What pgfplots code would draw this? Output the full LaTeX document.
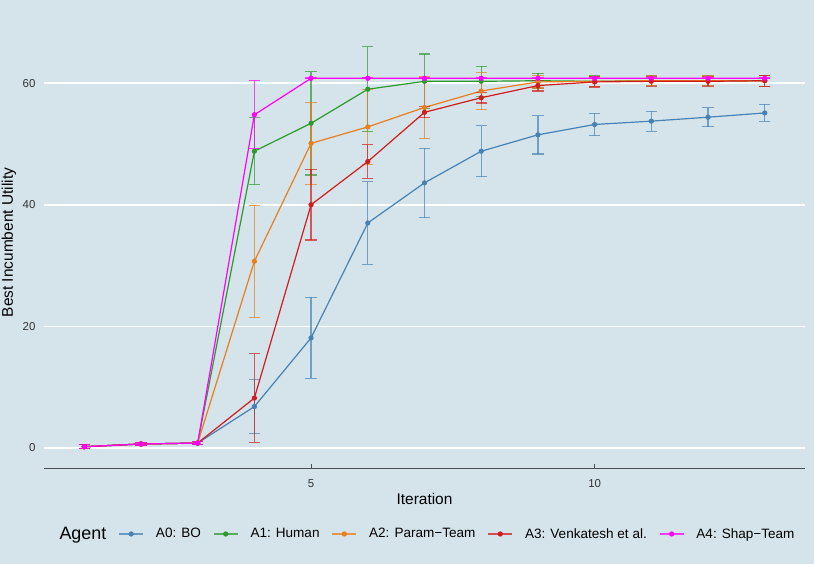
\documentclass[border=0pt]{standalone}
\usepackage{pgfplots}
\pgfplotsset{compat=1.18}
\usepackage{pgfplotstable}
\usepackage{fontspec}
\setmainfont{Liberation Sans}
\definecolor{bg}{HTML}{D5E4EB}
\definecolor{cA}{HTML}{4682B4}
\definecolor{cB}{HTML}{2E9A2E}
\definecolor{cC}{HTML}{E87E1C}
\definecolor{cD}{HTML}{D01C1C}
\definecolor{cE}{HTML}{FF00FF}
\definecolor{axcol}{HTML}{4D4D4D}

\pgfplotstableread{
x y e
1 0.2 0.3
2 0.65 0.3
3 0.8 0.3
4 6.8 4.45
5 18.1 6.65
6 37.0 6.8
7 43.6 5.7
8 48.8 4.2
9 51.5 3.15
10 53.2 1.85
11 53.75 1.65
12 54.4 1.55
13 55.1 1.4
}\tA
\pgfplotstableread{
x y e
1 0.2 0.3
2 0.65 0.3
3 0.8 0.3
4 48.8 5.5
5 53.4 8.5
6 59.0 7.0
7 60.3 4.5
8 60.3 2.5
9 60.4 1.2
10 60.3 0.9
11 60.4 0.85
12 60.4 0.85
13 60.4 0.9
}\tB
\pgfplotstableread{
x y e
1 0.2 0.3
2 0.65 0.3
3 0.8 0.3
4 30.7 9.2
5 50.1 6.75
6 52.8 6.2
7 56.0 5.1
8 58.7 3.05
9 60.2 1.0
10 60.3 0.85
11 60.4 0.85
12 60.4 0.85
13 60.4 0.9
}\tC
\pgfplotstableread{
x y e
1 0.2 0.3
2 0.65 0.3
3 0.8 0.3
4 8.2 7.3
5 40.0 5.8
6 47.1 2.75
7 55.2 0.9
8 57.6 0.85
9 59.6 0.9
10 60.2 0.85
11 60.3 0.85
12 60.3 0.85
13 60.4 0.9
}\tD
\pgfplotstableread{
x y e
1 0.2 0.3
2 0.65 0.3
3 0.8 0.3
4 54.8 5.6
5 60.8 0.05
6 60.8 0.05
7 60.8 0.05
8 60.8 0.05
9 60.8 0.05
10 60.8 0.05
11 60.8 0.05
12 60.8 0.05
13 60.8 0.05
}\tE

\begin{document}
\begin{tikzpicture}
\fill[bg] (-44bp,-96bp) rectangle (770bp,468bp);
\useasboundingbox (-44bp,-96bp) rectangle (770bp,468bp);
\begin{axis}[
  scale only axis, width=761bp, height=442bp,
  at={(0,0)}, anchor=south west,
  xmin=0.29, xmax=13.71, ymin=-3.3, ymax=69.4,
  axis x line*=bottom, axis y line*=left,
  x axis line style={draw=axcol, line width=1bp},
  y axis line style={draw=none},
  xtick={5,10}, ytick={0,20,40,60},
  ytick style={draw=none},
  xtick style={draw=axcol, line width=0.8bp},
  tick align=inside, major tick length=4bp,
  ymajorgrids, grid style={white, line width=1.6bp},
  /pgf/number format/assume math mode=true,
  tick label style={font=\fontsize{11.5}{13}\selectfont, text=black!80},
  yticklabel style={xshift=-5bp},
  xticklabel style={yshift=-8bp},
  xlabel={Iteration}, ylabel={Best Incumbent Utility},
  every axis x label/.style={at={(axis description cs:0.5,-0.070)}, anchor=center, font=\fontsize{15.5}{17}\selectfont},
  every axis y label/.style={at={(axis description cs:-0.046,0.51)}, rotate=90, anchor=center, font=\fontsize{15.5}{17}\selectfont},
  legend columns=6,
  legend style={at={(axis description cs:0.4954,-0.1493)}, anchor=center, draw=none, fill=none,
    font=\fontsize{13.6}{16}\selectfont, inner sep=0pt,
    nodes={inner sep=0pt},
    /tikz/every odd column/.append style={column sep=12bp},
    /tikz/every even column/.append style={column sep=12bp},
    cells={anchor=west}},
  legend image code/.code={\draw[#1, line width=1.6bp, opacity=0.75] (0bp,0bp) -- (24bp,0bp); \draw[#1, mark repeat=2, mark phase=2, draw=none] plot coordinates {(0bp,0bp) (12bp,0bp) (24bp,0bp)};},
  every axis plot/.append style={line width=1.2bp, mark=*, mark size=2bp, mark options={solid}},
]
\addlegendimage{empty legend}
\addlegendentry{\fontsize{18}{20}\selectfont Agent}
\addplot[cA, error bars/.cd, y dir=both, y explicit, error bar style={line width=1.2bp, opacity=0.7}, error mark options={rotate=90, mark size=5.6bp, line width=1.2bp, opacity=0.7}] table[x=x, y=y, y error=e] {\tA};
\addlegendentry{A0: BO}
\addplot[cB, error bars/.cd, y dir=both, y explicit, error bar style={line width=1.2bp, opacity=0.7}, error mark options={rotate=90, mark size=5.6bp, line width=1.2bp, opacity=0.7}] table[x=x, y=y, y error=e] {\tB};
\addlegendentry{A1: Human}
\addplot[cC, error bars/.cd, y dir=both, y explicit, error bar style={line width=1.2bp, opacity=0.7}, error mark options={rotate=90, mark size=5.6bp, line width=1.2bp, opacity=0.7}] table[x=x, y=y, y error=e] {\tC};
\addlegendentry{A2: Param−Team}
\addplot[cD, error bars/.cd, y dir=both, y explicit, error bar style={line width=1.2bp, opacity=0.7}, error mark options={rotate=90, mark size=5.6bp, line width=1.2bp, opacity=0.7}] table[x=x, y=y, y error=e] {\tD};
\addlegendentry{A3: Venkatesh et al.}
\addplot[cE, error bars/.cd, y dir=both, y explicit, error bar style={line width=1.2bp, opacity=0.7}, error mark options={rotate=90, mark size=5.6bp, line width=1.2bp, opacity=0.7}] table[x=x, y=y, y error=e] {\tE};
\addlegendentry{A4: Shap−Team}
\end{axis}
\end{tikzpicture}
\end{document}
